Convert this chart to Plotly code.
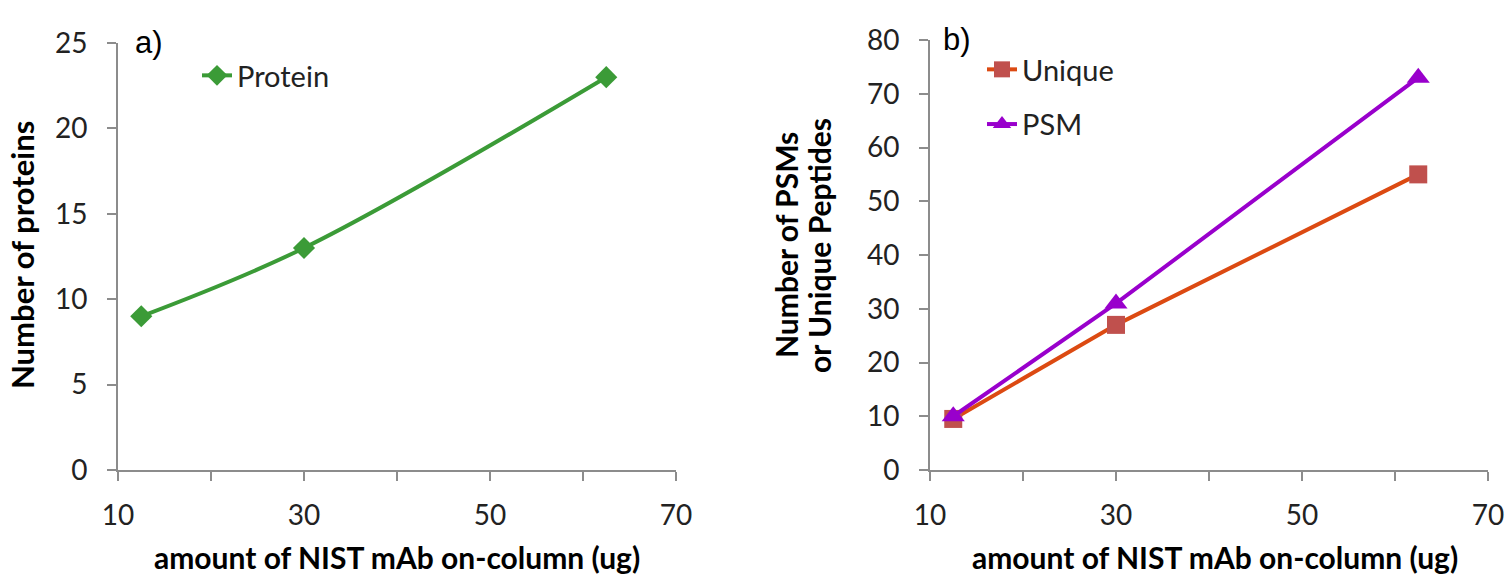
import plotly.graph_objects as go

# Data
amount = [12.5, 30, 62.5]
proteins = [9, 13, 23]
unique_peptides = [9.5, 27, 55]
psm = [10, 31, 73]

x_tickvals = [10, 20, 30, 40, 50, 60, 70]
x_ticktext = ["10", "", "30", "", "50", "", "70"]

OFF = 0  # page body margin removed via post_script
W, H = 1506, 574
FONT = "Lato"
GREEN = "#3B9B37"
ORANGE = "#DC4A12"
RED_MK = "#C0504D"
PURPLE = "#9900CC"
AXIS = "#8C8C8C"


def px(x):
    return (x - OFF) / W


def py(y):
    return 1 - (y - OFF) / H


fig = go.Figure()

fig.add_trace(go.Scatter(
    x=amount, y=proteins, name="Protein", mode="lines+markers",
    line=dict(color=GREEN, width=4, shape="spline", smoothing=1.0),
    marker=dict(symbol="diamond", size=17, color=GREEN),
    xaxis="x", yaxis="y", legend="legend", showlegend=True))

fig.add_trace(go.Scatter(
    x=amount, y=unique_peptides, name="Unique", mode="lines+markers",
    line=dict(color=ORANGE, width=4),
    marker=dict(symbol="square", size=18, color=RED_MK),
    xaxis="x2", yaxis="y2", legend="legend2", legendgroup="u", showlegend=True))

fig.add_trace(go.Scatter(
    x=amount, y=psm, name="PSM", mode="lines+markers",
    line=dict(color=PURPLE, width=4),
    marker=dict(symbol="triangle-up", size=20, color=PURPLE),
    xaxis="x2", yaxis="y2", legend="legend2", legendgroup="p", showlegend=True))

tickfont = dict(family=FONT, size=28, color="#222222")
common_x = dict(range=[10, 70], tickmode="array", tickvals=x_tickvals, ticktext=x_ticktext,
                showgrid=False, zeroline=False, showline=True, linecolor=AXIS, linewidth=2,
                ticks="outside", ticklen=9, tickwidth=2, tickcolor=AXIS, tickfont=tickfont,
                ticklabelstandoff=10, automargin=False)
common_y = dict(showgrid=False, zeroline=False, showline=True, linecolor=AXIS, linewidth=2,
                ticks="outside", ticklen=9, tickwidth=2, tickcolor=AXIS, tickfont=tickfont,
                ticklabelstandoff=14, automargin=False)

x1 = [px(118), px(676)]
x2 = [px(930), px(1488)]
y1 = [py(470), py(43)]
y2 = [py(470), py(40)]

legfont = dict(family=FONT, size=29, color="#222222")
fig.update_layout(
    width=W, height=H,
    margin=dict(l=0, r=0, t=0, b=0, autoexpand=False),
    paper_bgcolor="white", plot_bgcolor="white",
    showlegend=True,
    xaxis=dict(domain=x1, anchor="y", **common_x),
    yaxis=dict(domain=y1, anchor="x", range=[0, 25], dtick=5, **common_y),
    xaxis2=dict(domain=x2, anchor="y2", **common_x),
    yaxis2=dict(domain=y2, anchor="x2", range=[0, 80], dtick=10, **common_y),
    legend=dict(x=px(197), y=py(50), xanchor="left", yanchor="top",
                bgcolor="rgba(0,0,0,0)", font=legfont),
    legend2=dict(x=px(982), y=py(44), xanchor="left", yanchor="top",
                 bgcolor="rgba(0,0,0,0)", tracegroupgap=14, traceorder="grouped",
                 font=legfont),
)

annos = [
    dict(text="a)", x=px(133), y=py(43), xanchor="left", yanchor="middle",
         font=dict(family="Liberation Sans", size=31, color="black")),
    dict(text="b)", x=px(941), y=py(40), xanchor="left", yanchor="middle",
         font=dict(family="Liberation Sans", size=31, color="black")),
    dict(text="<b>Number of proteins</b>", x=px(22), y=py(255), textangle=-90,
         xanchor="center", yanchor="middle", font=dict(family=FONT, size=31, color="black")),
    dict(text="<b>Number of PSMs</b>", x=px(786), y=py(245), textangle=-90,
         xanchor="center", yanchor="middle", font=dict(family=FONT, size=30, color="black")),
    dict(text="<b>or Unique Peptides</b>", x=px(819), y=py(245), textangle=-90,
         xanchor="center", yanchor="middle", font=dict(family=FONT, size=30, color="black")),
    dict(text="<b>amount of NIST mAb on-column (ug)</b>", x=px(397), y=py(557),
         xanchor="center", yanchor="middle", font=dict(family=FONT, size=30, color="black")),
    dict(text="<b>amount of NIST mAb on-column (ug)</b>", x=px(1215), y=py(557),
         xanchor="center", yanchor="middle", font=dict(family=FONT, size=30, color="black")),
]
for a in annos:
    a.update(xref="paper", yref="paper", showarrow=False)
fig.update_layout(annotations=annos)

fig.write_html(
    "out.html",
    config={"displayModeBar": False},
    post_script="document.body.style.margin='0';document.body.style.overflow='hidden';",
)
